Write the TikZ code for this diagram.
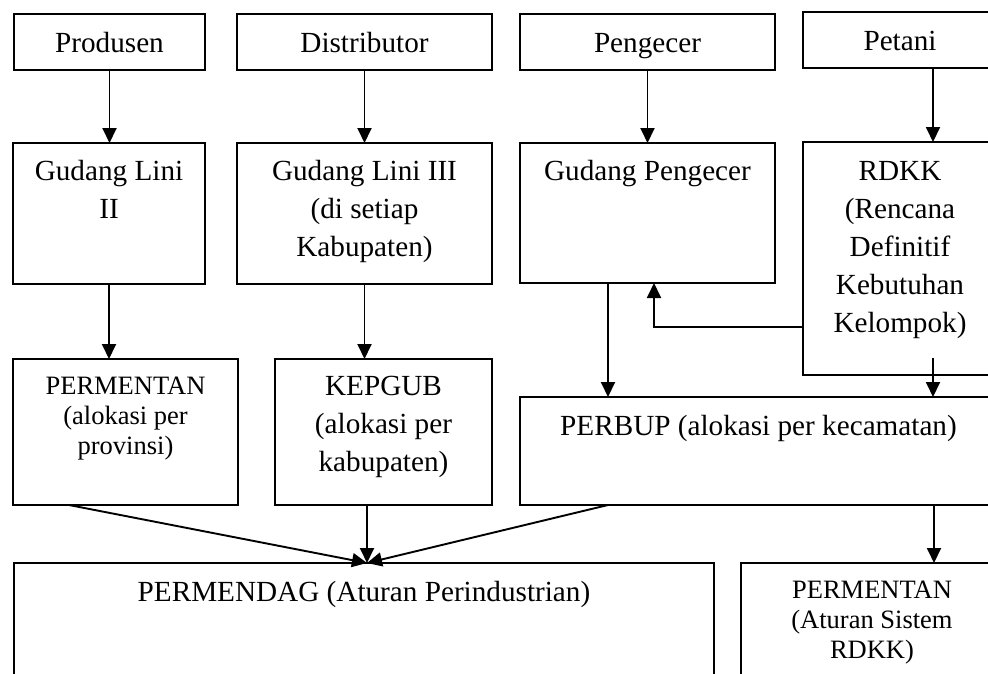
\documentclass[tikz,border=0pt]{standalone}
\usepackage{fontspec}
\setmainfont{Liberation Serif}
\usetikzlibrary{arrows.meta,calc}
\newcommand\mainsz{\fontsize{29.2pt}{38pt}\selectfont}
\newcommand\smallsz{\fontsize{26.5pt}{30pt}\selectfont}
\newcommand\boxat[5]{%
  \node[box, minimum width={(#4-#2)*1pt}, minimum height={(#5-#3)*1pt}] (#1) at ({(#2+#4)/2},{(#3+#5)/2}) {};}
\tikzset{
  box/.style={draw, line width=2pt, inner sep=0pt, outer sep=0pt},
  mtxt/.style={inner sep=0pt, align=center, font=\mainsz},
  stxt/.style={inner sep=0pt, align=center, font=\smallsz},
  arr/.style={-{Triangle[length=15pt,width=14pt]}, line width=1.9pt},
}
\begin{document}
\begin{tikzpicture}[x=1pt,y=-1pt]
\useasboundingbox (0,0) rectangle (988,673);
\clip (0,0) rectangle (988,673);
% row 1
\boxat{prod}{14}{14}{205}{70}
\boxat{dist}{237}{14}{492}{70}
\boxat{peng}{520}{14}{775}{70}
\boxat{pet}{803}{12}{997}{68}
% row 2
\boxat{gl2}{13}{143}{205}{284}
\boxat{gl3}{237}{143}{492}{284}
\boxat{gp}{520}{143}{775}{283}
\boxat{rdkk}{803}{142}{997}{375}
% row 3
\boxat{perm1}{13}{359}{238}{505}
\boxat{kep}{275}{359}{492}{505}
\boxat{perbup}{520}{397}{997}{505}
% row 4
\boxat{pmd}{14}{563}{714}{690}
\boxat{perm2}{741}{563}{1003}{690}
% texts
\node[mtxt, anchor=base] (tprod) at (109.5,52) {Produsen};
\node[mtxt, anchor=base] (tdist) at (364.5,52) {Distributor};
\node[mtxt, anchor=base] (tpeng) at (647.5,52) {Pengecer};
\node[mtxt, anchor=base] (tpet) at (900,50) {Petani};
\node[mtxt, anchor=north] (tgl2) at (109,153.5) {\strut Gudang Lini\\II};
\node[mtxt, anchor=north] (tgl3) at (364.5,153.5) {\strut Gudang Lini III\\(di setiap\\Kabupaten)};
\node[mtxt, anchor=north] (tgp) at (647.5,153.5) {\strut Gudang Pengecer};
\node[mtxt, anchor=north] (trdkk) at (900,153.5) {\strut RDKK\\(Rencana\\Definitif\\Kebutuhan\\Kelompok)};
\node[stxt, anchor=north] (tperm1) at (125.5,373) {\strut PERMENTAN\\(alokasi per\\provinsi)};
\node[mtxt, anchor=north] (tkep) at (383.5,368.5) {\strut KEPGUB\\(alokasi per\\kabupaten)};
\node[mtxt, anchor=north] (tperbup) at (758.5,408.5) {\strut PERBUP (alokasi per kecamatan)};
\node[mtxt, anchor=north] (tpmd) at (364,574.5) {\strut PERMENDAG (Aturan Perindustrian)};
\node[stxt, anchor=north] (tperm2) at (872,577) {\strut PERMENTAN\\(Aturan Sistem\\RDKK)};
% connectors
\draw[arr] (prod.south) -- (prod.south |- gl2.north);
\draw[arr] (dist.south) -- (dist.south |- gl3.north);
\draw[arr] (peng.south) -- (peng.south |- gp.north);
\draw[arr] ([xshift=33pt]pet.south) -- ([xshift=33pt]rdkk.north);
\draw[arr] (gl2.south) -- (gl2.south |- perm1.north);
\draw[arr] (gl3.south) -- (gl3.south |- kep.north);
\draw[arr] ([xshift=-39.5pt]gp.south) -- ([xshift=-39.5pt]gp.south |- perbup.north);
\draw[arr] ([yshift=-68.5pt]rdkk.west) -| ([xshift=6.5pt]gp.south);
\draw[arr] ([xshift=33pt,yshift=17pt]rdkk.south) -- ([xshift=33pt]rdkk.south |- perbup.north);
\coordinate (tip) at ([xshift=3pt]pmd.north);
\draw[arr] ([xshift=-56.5pt]perm1.south) -- (tip);
\draw[arr] (tip |- kep.south) -- (tip);
\draw[arr] ([xshift=-150.5pt]perbup.south) -- (tip);
\draw[arr] ([xshift=175.5pt]perbup.south) -- ([xshift=175.5pt]perbup.south |- perm2.north);
\end{tikzpicture}
\end{document}
